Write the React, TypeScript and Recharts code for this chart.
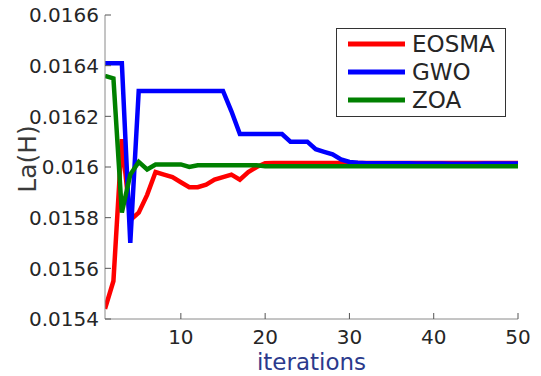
import React from "react";
import { LineChart, Line, XAxis, YAxis, Legend } from "recharts";

const iterations = [
  1, 2, 3, 4, 5, 6, 7, 8, 9, 10, 11, 12, 13, 14, 15, 16, 17, 18, 19, 20, 21, 22, 23, 24, 25,
  26, 27, 28, 29, 30, 31, 32, 33, 34, 35, 36, 37, 38, 39, 40, 41, 42, 43, 44, 45, 46, 47, 48, 49, 50,
];

const eosma = [
  0.01544, 0.01555, 0.01611, 0.01579, 0.01582, 0.01589, 0.01598, 0.01597, 0.01596, 0.01594,
  0.01592, 0.01592, 0.01593, 0.01595, 0.01596, 0.01597, 0.01595, 0.01598, 0.016, 0.016015,
  0.016016, 0.016016, 0.016016, 0.016016, 0.016016, 0.016016, 0.016016, 0.016016, 0.016016, 0.016016,
  0.016016, 0.016016, 0.016016, 0.016016, 0.016016, 0.016016, 0.016016, 0.016016, 0.016016, 0.016016,
  0.016016, 0.016016, 0.016016, 0.016016, 0.016016, 0.016016, 0.016016, 0.016016, 0.016016, 0.016016,
];

const gwo = [
  0.01641, 0.01641, 0.01641, 0.0157, 0.0163, 0.0163, 0.0163, 0.0163, 0.0163, 0.0163,
  0.0163, 0.0163, 0.0163, 0.0163, 0.0163, 0.01622, 0.01613, 0.01613, 0.01613, 0.01613,
  0.01613, 0.01613, 0.0161, 0.0161, 0.0161, 0.01607, 0.01606, 0.01605, 0.01603, 0.01602,
  0.016017, 0.016015, 0.016015, 0.016015, 0.016015, 0.016015, 0.016015, 0.016014, 0.016014, 0.016014,
  0.016014, 0.016013, 0.016013, 0.016013, 0.016013, 0.016014, 0.016014, 0.016014, 0.016014, 0.016014,
];

const zoa = [
  0.01636, 0.01635, 0.01582, 0.01597, 0.01602, 0.01599, 0.01601, 0.01601, 0.01601, 0.01601,
  0.016, 0.016007, 0.016007, 0.016007, 0.016007, 0.016007, 0.016007, 0.016007, 0.016007, 0.016003,
  0.016003, 0.016003, 0.016003, 0.016003, 0.016003, 0.016003, 0.016003, 0.016003, 0.016003, 0.016003,
  0.016003, 0.016003, 0.016003, 0.016003, 0.016003, 0.016003, 0.016003, 0.016003, 0.016003, 0.016003,
  0.016003, 0.016003, 0.016003, 0.016003, 0.016003, 0.016003, 0.016003, 0.016003, 0.016003, 0.016003,
];

const xTicks = [10, 20, 30, 40, 50];
const yTicks = [0.0154, 0.0156, 0.0158, 0.016, 0.0162, 0.0164, 0.0166];

const series = [
  { key: "EOSMA", color: "#ff0000" },
  { key: "GWO", color: "#0000ff" },
  { key: "ZOA", color: "#008000" },
];

const data = iterations.map((it, i) => ({
  it,
  EOSMA: eosma[i],
  GWO: gwo[i],
  ZOA: zoa[i],
}));

const FONT = "DejaVu Sans";
const AXIS = "#8a8a8a";
const TICK_COLOR = "#555";
const TICK = 6;
const X_GAP = 4;
const Y_GAP = 0;

// ticks point inwards, so each tick draws its own short mark next to the label
const BottomTick = (props: any) => {
  const { x, y, payload } = props;
  const axisY = y - X_GAP - TICK;
  return (
    <g>
      <line x1={x} x2={x} y1={axisY} y2={axisY - TICK} stroke={TICK_COLOR} />
      <text x={x} y={y} dy="0.73em" textAnchor="middle" fontFamily={FONT} fontSize={20} fill="#262626">
        {payload.value}
      </text>
    </g>
  );
};

const LeftTick = (props: any) => {
  const { x, y, payload } = props;
  const axisX = x + Y_GAP + TICK;
  return (
    <g>
      <line x1={axisX} x2={axisX + TICK} y1={y} y2={y} stroke={TICK_COLOR} />
      <text x={x} y={y} dy="0.36em" textAnchor="end" fontFamily={FONT} fontSize={20} fill="#262626">
        {String(parseFloat(Number(payload.value).toFixed(4)))}
      </text>
    </g>
  );
};

const TopTick = (props: any) => {
  const { x, y } = props;
  const axisY = y - TICK;
  return <line x1={x} x2={x} y1={axisY} y2={axisY + TICK} stroke={TICK_COLOR} />;
};

const RightTick = (props: any) => {
  const { x, y } = props;
  const axisX = x + TICK;
  return <line x1={axisX} x2={axisX - TICK} y1={y} y2={y} stroke={TICK_COLOR} />;
};

const renderLegend = () => (
  <div
    style={{
      boxSizing: "border-box",
      width: 170,
      height: 89,
      border: "1px solid #333",
      background: "#fff",
      paddingTop: 1,
      paddingLeft: 11,
    }}
  >
    {series.map((s) => (
      <div key={s.key} style={{ display: "flex", alignItems: "center", height: 28 }}>
        <svg width={57} height={6} style={{ display: "block" }}>
          <line x1={0} y1={3} x2={57} y2={3} stroke={s.color} strokeWidth={5} />
        </svg>
        <span
          style={{
            marginLeft: 7,
            fontFamily: FONT,
            fontSize: 23,
            color: "#262626",
            lineHeight: "28px",
          }}
        >
          {s.key}
        </span>
      </div>
    ))}
  </div>
);

const YLabel = (props: any) => {
  const vb = props.viewBox || {};
  const cx = vb.x + 27;
  const cy = vb.y + vb.height / 2 - 8;
  return (
    <text
      x={cx}
      y={cy}
      transform={`rotate(-90 ${cx} ${cy})`}
      textAnchor="middle"
      dominantBaseline="central"
      fontFamily={FONT}
      fontSize={25}
      fill="#3a3a3a"
    >
      La(H)
    </text>
  );
};

export default function App() {
  return (
    <div style={{ position: "absolute", left: 0, top: 0, width: 541, height: 376, background: "#fff" }}>
      <LineChart
        width={541}
        height={376}
        data={data}
        margin={{ top: 15, right: 23, bottom: 0, left: 0 }}
      >
        <XAxis
          dataKey="it"
          type="number"
          domain={[1, 50]}
          ticks={xTicks}
          allowDataOverflow
          height={57}
          stroke={AXIS}
          tickLine={false}
          tickSize={TICK}
          tickMargin={X_GAP}
          tick={<BottomTick />}
          label={{
            value: "iterations",
            position: "insideBottom",
            offset: 6,
            fill: "#2b3a8c",
            fontSize: 23,
            fontFamily: FONT,
          }}
        />
        <XAxis
          xAxisId="top"
          orientation="top"
          dataKey="it"
          type="number"
          domain={[1, 50]}
          ticks={xTicks}
          allowDataOverflow
          height={0}
          stroke={AXIS}
          tickLine={false}
          tickSize={0}
          tickMargin={-TICK}
          tick={<TopTick />}
        />
        <YAxis
          type="number"
          domain={[0.0154, 0.0166]}
          ticks={yTicks}
          allowDataOverflow
          width={105}
          stroke={AXIS}
          tickLine={false}
          tickSize={TICK}
          tickMargin={Y_GAP}
          tick={<LeftTick />}
          label={{ content: (p: any) => <YLabel {...p} /> }}
        />
        <YAxis
          yAxisId="right"
          orientation="right"
          type="number"
          domain={[0.0154, 0.0166]}
          ticks={yTicks}
          allowDataOverflow
          width={0}
          stroke={AXIS}
          tickLine={false}
          tickSize={0}
          tickMargin={-TICK}
          tick={<RightTick />}
        />
        <Legend
          layout="vertical"
          align="center"
          verticalAlign="middle"
          content={renderLegend}
          wrapperStyle={{ left: 336, top: 28, width: 170, height: 89 }}
        />
        {series.map((s) => (
          <Line
            key={s.key}
            type="linear"
            dataKey={s.key}
            stroke={s.color}
            strokeWidth={4.5}
            dot={false}
            activeDot={false}
            isAnimationActive={false}
          />
        ))}
      </LineChart>
    </div>
  );
}
